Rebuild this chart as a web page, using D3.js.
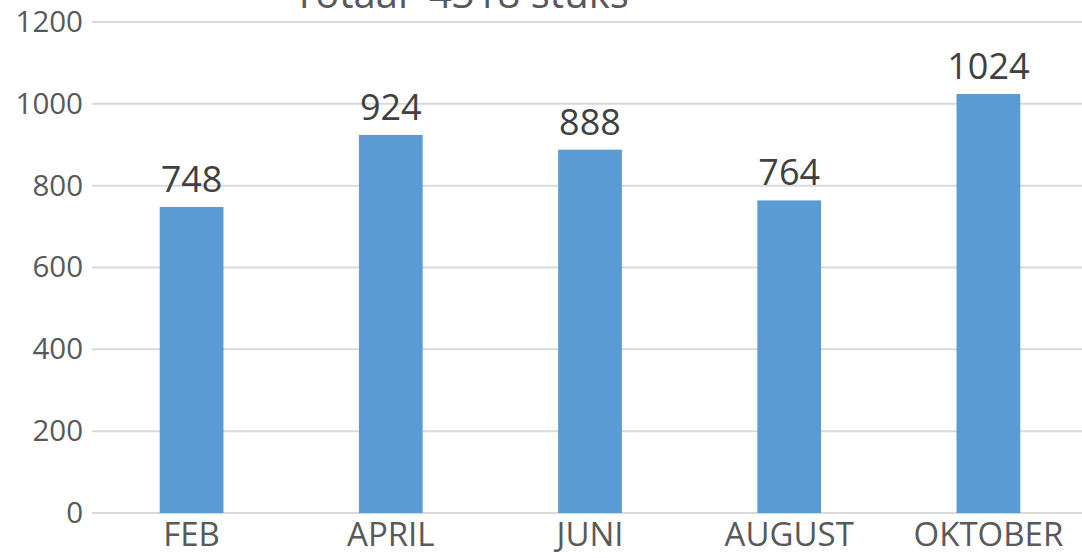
<!DOCTYPE html>
<html>
<head>
<meta charset="utf-8">
<script src="https://cdn.jsdelivr.net/npm/d3@7"></script>
<style>
  body { margin: 0; background: #fff; }
  svg { display: block; font-family: "Open Sans", sans-serif; }
</style>
</head>
<body>
<svg id="chart"></svg>
<script>
// data
var months = ['FEB', 'APRIL', 'JUNI', 'AUGUST', 'OKTOBER'];
var counts = [748, 924, 888, 764, 1024];
var yTicks = [0, 200, 400, 600, 800, 1000, 1200];
var title = 'Totaal  4318 stuks';

var svgWidth = 1082, svgHeight = 558;
// plot area runs a little past the right edge, like the original
var margin = { top: 22, right: -6, bottom: 45, left: 92 };

var svg = d3.select('#chart')
  .attr('width', svgWidth)
  .attr('height', svgHeight);

var x = d3.scaleBand()
  .domain(months)
  .range([margin.left, svgWidth - margin.right])
  .paddingInner(0.68)
  .paddingOuter(0.34);

var y = d3.scaleLinear()
  .domain([0, 1200])
  .range([svgHeight - margin.bottom, margin.top]);

// gridlines
svg.append('g')
  .selectAll('line')
  .data(yTicks)
  .enter()
  .append('line')
  .attr('x1', margin.left)
  .attr('x2', svgWidth)
  .attr('y1', function(d) { return y(d); })
  .attr('y2', function(d) { return y(d); })
  .attr('stroke', '#d9d9d9')
  .attr('stroke-width', 2);

// y axis labels
var yAxis = d3.axisLeft(y).tickValues(yTicks).tickFormat(d3.format('d')).tickSize(0).tickPadding(9);
var gy = svg.append('g')
  .attr('transform', 'translate(' + margin.left + ',0)')
  .call(yAxis);
gy.select('.domain').remove();
gy.selectAll('text')
  .attr('fill', '#595959')
  .style('font-size', '29.5px')
  .style('font-family', '"Open Sans", sans-serif');

// x axis labels
var xAxis = d3.axisBottom(x).tickSize(0).tickPadding(10);
var gx = svg.append('g')
  .attr('transform', 'translate(0,' + y(0) + ')')
  .call(xAxis);
gx.select('.domain').remove();
gx.selectAll('text')
  .attr('fill', '#595959')
  .style('font-size', '33px')
  .style('font-family', '"Open Sans", sans-serif');

// bars
svg.selectAll('rect.bar')
  .data(counts)
  .enter()
  .append('rect')
  .attr('class', 'bar')
  .attr('fill', '#5b9bd5')
  .attr('x', function(d, i) { return x(months[i]); })
  .attr('width', x.bandwidth())
  .attr('y', function(d) { return y(d); })
  .attr('height', function(d) { return y(0) - y(d); });

// value labels
svg.selectAll('text.value')
  .data(counts)
  .enter()
  .append('text')
  .attr('class', 'value')
  .attr('fill', '#404040')
  .attr('text-anchor', 'middle')
  .style('font-size', '36px')
  .attr('x', function(d, i) { return x(months[i]) + x.bandwidth() / 2; })
  .attr('y', function(d) { return y(d) - 15; })
  .text(function(d) { return d; });

// title (cut off at top, as in the original)
svg.append('text')
  .attr('x', 461)
  .attr('y', 8)
  .attr('text-anchor', 'middle')
  .attr('fill', '#595959')
  .style('font-size', '40px')
  .style('white-space', 'pre')
  .text(title);
</script>
</body>
</html>
